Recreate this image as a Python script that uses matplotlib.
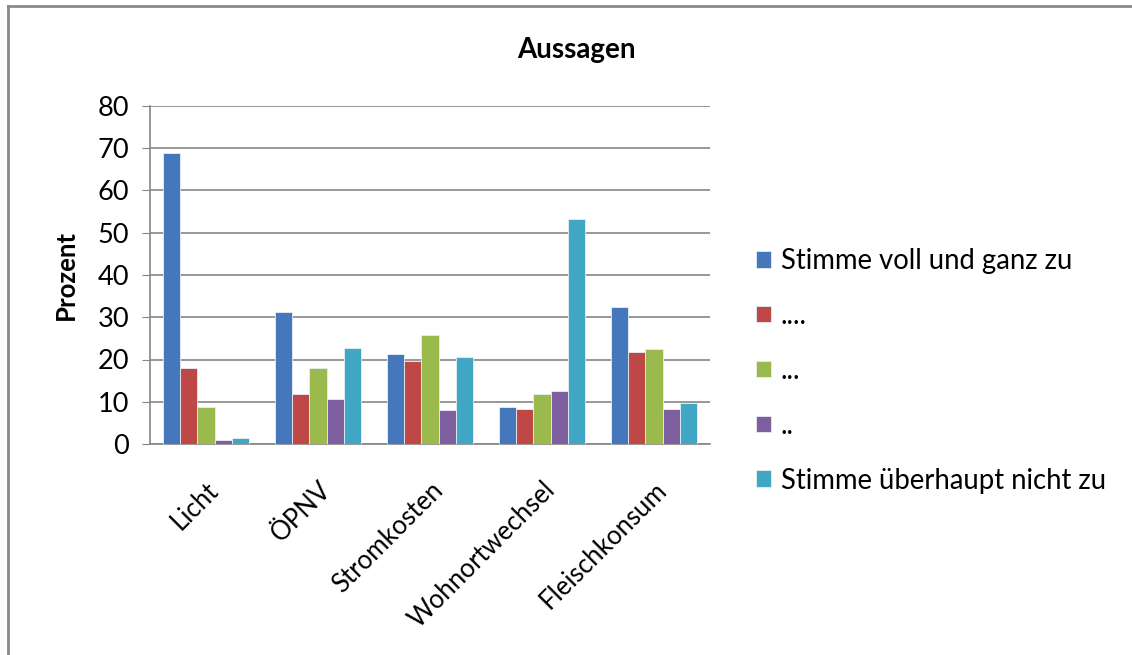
import numpy as np
import matplotlib
matplotlib.use('Agg')
from matplotlib import pyplot as plt
from matplotlib.lines import Line2D

plt.rcParams['font.family'] = ['Lato', 'DejaVu Sans']

# data
categories = ['Licht', 'ÖPNV', 'Stromkosten', 'Wohnortwechsel', 'Fleischkonsum']
series_names = ['Stimme voll und ganz zu', '....', '...', '..', 'Stimme überhaupt nicht zu']
voll = [68.9, 31.3, 21.3, 8.7, 32.4]
s4 = [18.0, 11.8, 19.7, 8.3, 21.8]
s3 = [8.7, 18.0, 25.8, 11.8, 22.5]
s2 = [1.0, 10.6, 8.0, 12.5, 8.4]
nicht = [1.4, 22.7, 20.7, 53.3, 9.8]
colors = ['#4478BB', '#BE4845', '#9ABA4E', '#7D5E9F', '#40A8C4']

fig = plt.figure(figsize=(11.32, 6.55), dpi=100)
ax = fig.add_axes([150/1132, 1-444/655, 560/1132, 338/655])

x = np.arange(len(categories))
w = 0.152
for i, (vals, c) in enumerate(zip([voll, s4, s3, s2, nicht], colors)):
    ax.bar(x + (i-2)*w, vals, w, color=c, edgecolor='#e8eef5', linewidth=0.6,
           label=series_names[i], zorder=3)

ax.set_xlim(-0.5, len(categories)-0.5)
ax.set_ylim(0, 80)
ax.set_yticks(range(0, 81, 10))
ax.yaxis.grid(True, color='#868686', linewidth=1.2, zorder=0)
for s in ['top', 'right']:
    ax.spines[s].set_visible(False)
for s in ['left', 'bottom']:
    ax.spines[s].set_color('#868686')
    ax.spines[s].set_linewidth(1.2)
ax.tick_params(axis='y', length=6, color='#868686', labelsize=19.5, pad=9)
ax.tick_params(axis='x', length=0, labelsize=18.5, pad=24)
ax.set_xticks(x)
ax.set_xticklabels(categories, rotation=45, ha='right', rotation_mode='anchor')
ax.set_ylabel('Prozent', fontsize=18.5, fontweight='bold', labelpad=14)

fig.text(576/1132, 1-50/655, 'Aussagen', fontsize=20, fontweight='bold',
         ha='center', va='center')

leg = fig.legend(loc='upper left', bbox_to_anchor=(745/1132, 1-237/655),
                 frameon=False, fontsize=19.8, handlelength=0.55, handleheight=0.55,
                 handletextpad=0.35, labelspacing=1.05, borderaxespad=0)

# chart border
fig.add_artist(Line2D([8/1132, 8/1132], [0, 1-6/655], color='#8a8a8a', lw=2))
fig.add_artist(Line2D([8/1132, 1], [1-6/655, 1-6/655], color='#8a8a8a', lw=2))

fig.savefig('out.png', dpi=100)
